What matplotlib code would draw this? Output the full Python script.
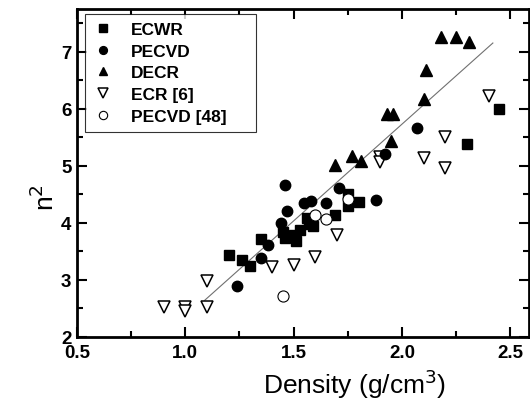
import numpy as np
import matplotlib
matplotlib.use("Agg")
import matplotlib.pyplot as plt
from matplotlib.ticker import MultipleLocator

plt.rcParams['font.family'] = ['Liberation Sans', 'DejaVu Sans']

# ECWR (filled squares)
ecwr_x = [1.20, 1.26, 1.30, 1.35, 1.45, 1.46, 1.50, 1.51, 1.53, 1.56, 1.57, 1.59, 1.69, 1.75, 1.75, 1.80, 2.30, 2.45]
ecwr_y = [3.43, 3.35, 3.24, 3.72, 3.84, 3.74, 3.79, 3.69, 3.87, 4.08, 3.98, 3.95, 4.13, 4.50, 4.30, 4.36, 5.39, 6.00]

# PECVD (filled circles)
pecvd_x = [1.24, 1.35, 1.38, 1.44, 1.47, 1.46, 1.55, 1.58, 1.65, 1.71, 1.88, 1.92, 2.07]
pecvd_y = [2.89, 3.38, 3.62, 4.00, 4.21, 4.67, 4.35, 4.39, 4.35, 4.62, 4.41, 5.21, 5.67]

# DECR (filled up-triangles)
decr_x = [1.69, 1.77, 1.81, 1.95, 1.93, 1.96, 2.10, 2.11, 2.18, 2.25, 2.31]
decr_y = [5.02, 5.18, 5.08, 5.44, 5.91, 5.91, 6.18, 6.68, 7.26, 7.26, 7.17]

# ECR [6] (open down-triangles)
ecr_x = [0.90, 1.00, 1.00, 1.10, 1.10, 1.40, 1.50, 1.60, 1.70, 1.90, 1.90, 2.10, 2.20, 2.20, 2.40]
ecr_y = [2.53, 2.53, 2.45, 2.53, 2.98, 3.22, 3.26, 3.41, 3.79, 5.15, 5.07, 5.14, 5.50, 4.96, 6.23]

# PECVD [48] (open circles)
pecvd48_x = [1.45, 1.60, 1.65, 1.75]
pecvd48_y = [2.72, 4.14, 4.07, 4.42]

# linear fit line
fit_intercept = -1.05
fit_slope = 3.39
fit_xrange = [1.09, 2.42]

fig = plt.figure(figsize=(5.30, 4.06), dpi=100)
ax = fig.add_axes([77/530, 68/406, 452/530, 328/406])

fx = np.array(fit_xrange)
ax.plot(fx, fit_intercept + fit_slope*fx, color='#707070', lw=0.8, zorder=1)

ax.plot(ecwr_x, ecwr_y, 's', color='black', ms=7, label='ECWR', zorder=3)
ax.plot(pecvd_x, pecvd_y, 'o', color='black', ms=7.5, label='PECVD', zorder=3)
ax.plot(decr_x, decr_y, '^', color='black', ms=8.5, label='DECR', zorder=3)
ax.plot(ecr_x, ecr_y, 'v', mfc='white', mec='black', mew=1.1, ms=9, label='ECR [6]', zorder=2)
ax.plot(pecvd48_x, pecvd48_y, 'o', mfc='white', mec='black', mew=0.8, ms=8, label='PECVD [48]', zorder=4)

ax.set_xlim(0.5, 0.5 + 452/216.6)
ax.set_ylim(2, 7.75)
ax.xaxis.set_minor_locator(MultipleLocator(0.25))
ax.yaxis.set_major_locator(MultipleLocator(1))
ax.yaxis.set_minor_locator(MultipleLocator(0.5))
ax.set_xticks([0.5, 1.0, 1.5, 2.0, 2.5])
ax.set_xticklabels(['0.5', '1.0', '1.5', '2.0', '2.5'])

ax.tick_params(which='both', direction='in', top=True, right=True, width=1.5,
               labelsize=13.5, pad=4)
ax.tick_params(axis='x', which='major', pad=5)
ax.tick_params(which='major', length=7)
ax.tick_params(which='minor', length=4)
for lbl in ax.get_xticklabels() + ax.get_yticklabels():
    lbl.set_fontweight('bold')
for sp in ax.spines.values():
    sp.set_linewidth(2)

ax.set_xlabel('Density (g/cm$^3$)', fontsize=19, labelpad=2)
ax.xaxis.set_label_coords(0.615, -0.09)
ax.set_ylabel('n$^2$', fontsize=19)
ax.yaxis.set_label_coords(-0.04, 0.427)

leg = ax.legend(loc='upper left', bbox_to_anchor=(0.0177, 0.622, 0.378, 0.363),
                mode='expand', borderaxespad=0, fontsize=12.5, frameon=True,
                fancybox=False, edgecolor='black', markerscale=0.75,
                handlelength=1.2, borderpad=0.45, labelspacing=0.38,
                handletextpad=1.0)
leg.get_frame().set_linewidth(0.8)
for t in leg.get_texts():
    t.set_fontweight('bold')

fig.savefig('out.png', dpi=100)
